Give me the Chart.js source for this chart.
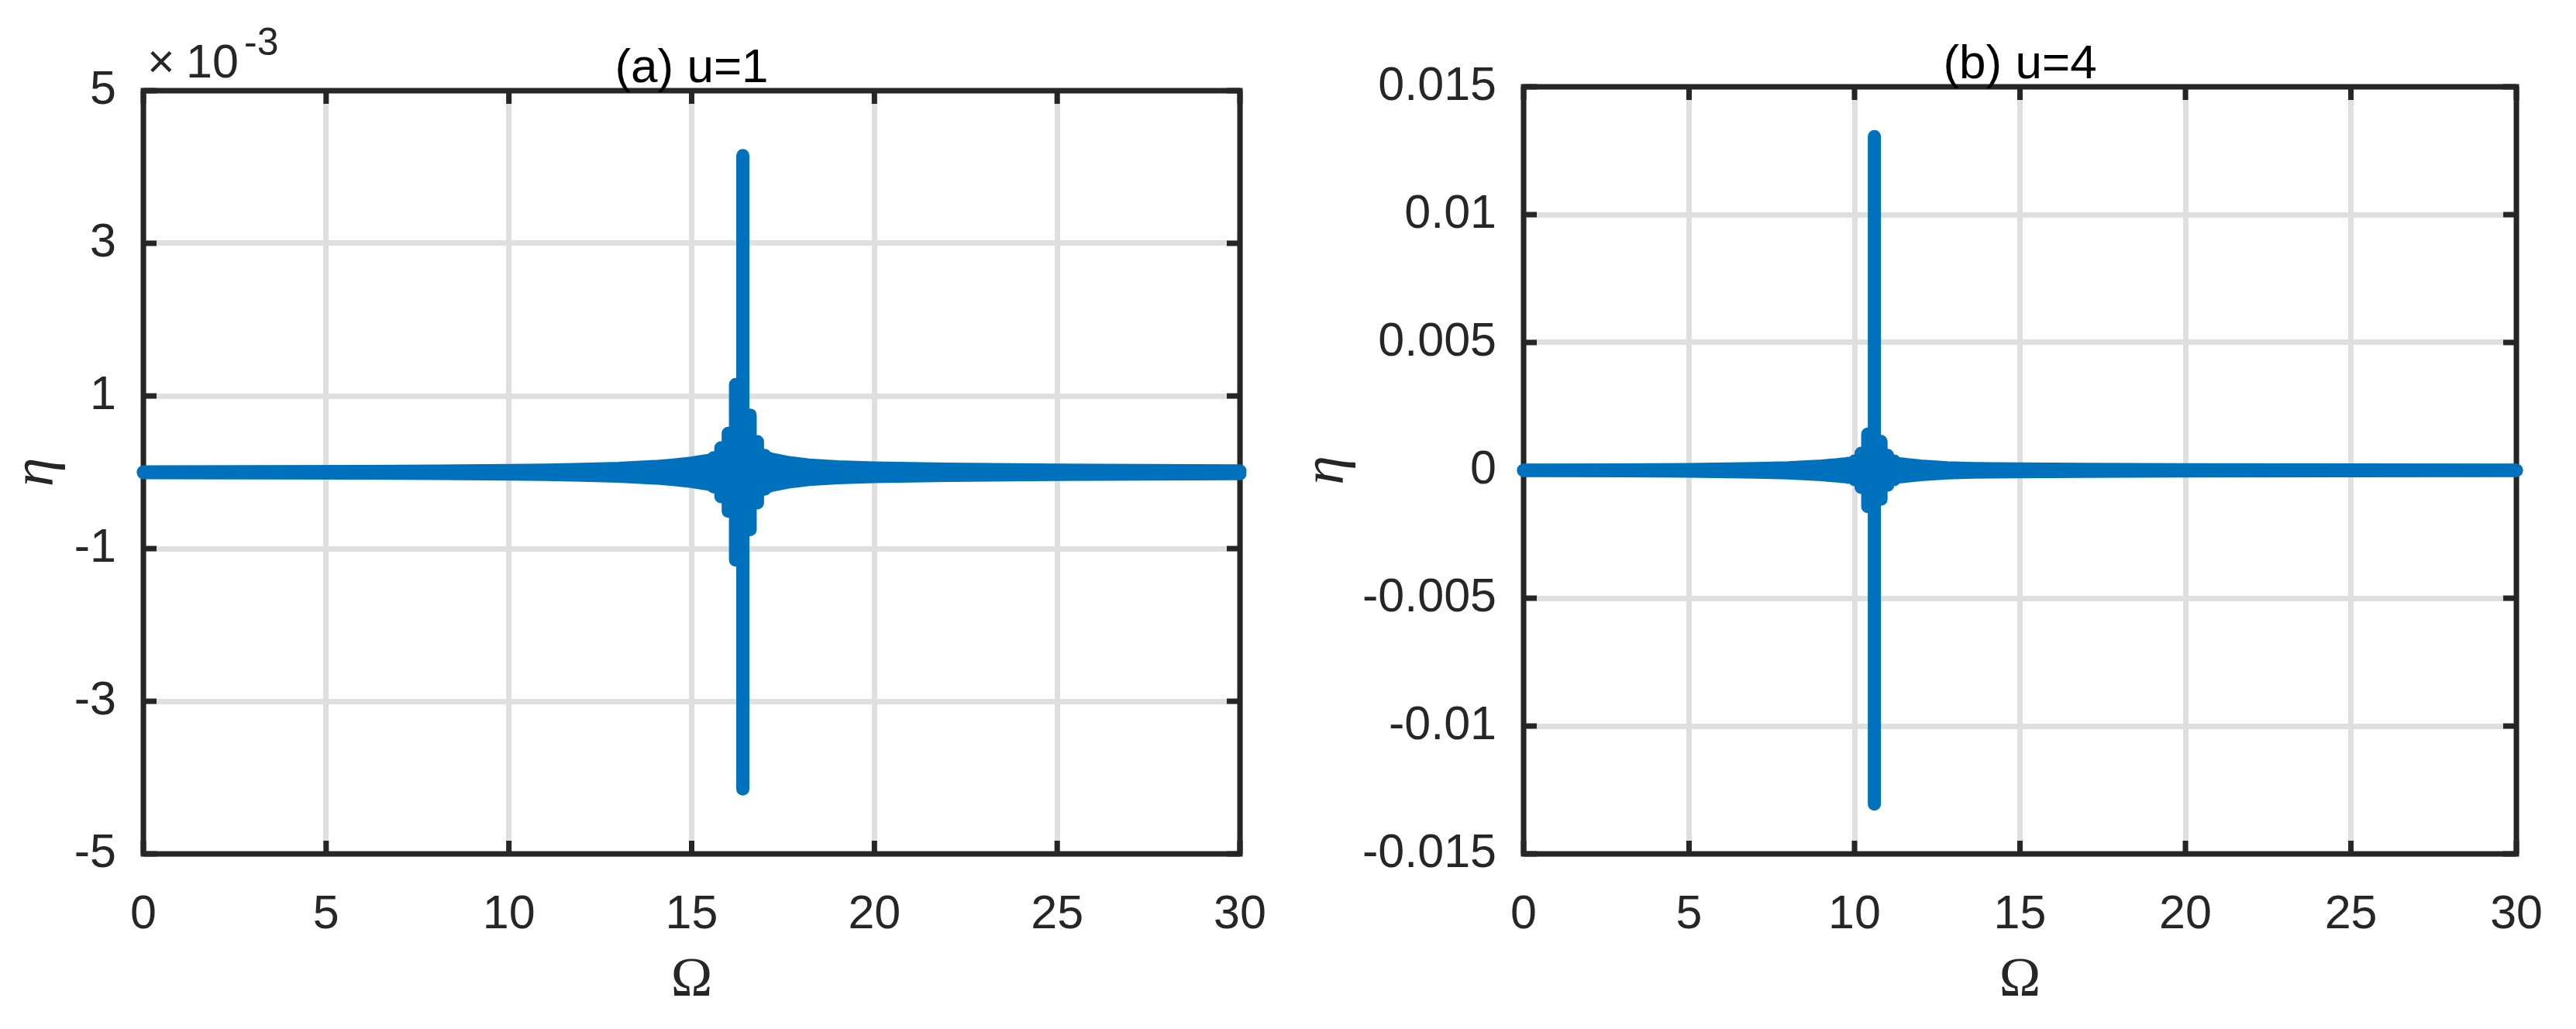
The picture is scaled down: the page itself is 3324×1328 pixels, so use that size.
<!DOCTYPE html>
<html><head><meta charset="utf-8">
<script src="https://cdn.jsdelivr.net/npm/chart.js@4.4.1/dist/chart.umd.min.js"></script>
<style>
html,body{margin:0;padding:0;background:#fff;width:3324px;height:1328px;overflow:hidden}
canvas{position:absolute;top:0}
#ca{left:0}
#cb{left:1680px}
</style></head><body>
<canvas id="ca" width="1680" height="1328"></canvas>
<canvas id="cb" width="1644" height="1328"></canvas>
<script>
// ---------------- data ----------------
const xTicks = [0, 5, 10, 15, 20, 25, 30];
const xLabel = 'Ω';
const yLabel = 'η';

// panel (a) u=1
const titleA = '(a) u=1';
const envOmegaA = [0, 3, 6, 8, 10, 11, 12, 13, 14, 14.5, 15, 15.4, 15.6, 17.0, 17.2, 17.6, 18.2, 19, 20, 22, 25, 30];
const envAmpA   = [0.005e-3, 0.007e-3, 0.010e-3, 0.015e-3, 0.022e-3, 0.028e-3, 0.037e-3, 0.050e-3, 0.075e-3, 0.095e-3, 0.12e-3, 0.15e-3, 0.17e-3, 0.20e-3, 0.17e-3, 0.13e-3, 0.095e-3, 0.07e-3, 0.055e-3, 0.04e-3, 0.028e-3, 0.018e-3];
const colOmegaA = [15.6, 15.8, 16.0, 16.2, 16.4, 16.6, 16.8, 17.0];
const colAmpA   = [0.19e-3, 0.32e-3, 0.51e-3, 1.15e-3, 4.15e-3, 0.75e-3, 0.40e-3, 0.22e-3];
const yTicksA = [-5e-3, -3e-3, -1e-3, 1e-3, 3e-3, 5e-3];
const yTickLabelsA = ['-5', '-3', '-1', '1', '3', '5'];
const yRangeA = [-5e-3, 5e-3];
const expA = '-3';

// panel (b) u=4
const titleB = '(b) u=4';
const envOmegaB = [0, 3, 5, 7, 8, 9, 9.4, 9.6, 11.4, 11.6, 12, 12.8, 13.6, 15, 17, 20, 25, 30];
const envAmpB   = [0.005e-3, 0.012e-3, 0.03e-3, 0.07e-3, 0.10e-3, 0.17e-3, 0.21e-3, 0.24e-3, 0.25e-3, 0.22e-3, 0.17e-3, 0.10e-3, 0.07e-3, 0.05e-3, 0.035e-3, 0.025e-3, 0.015e-3, 0.01e-3];
const colOmegaB = [9.8, 10.0, 10.2, 10.4, 10.6, 10.8, 11.0, 11.2];
const colAmpB   = [0.27e-3, 0.36e-3, 0.67e-3, 1.42e-3, 13.05e-3, 1.13e-3, 0.58e-3, 0.36e-3];
const yTicksB = [-0.015, -0.01, -0.005, 0, 0.005, 0.01, 0.015];
const yTickLabelsB = ['-0.015', '-0.01', '-0.005', '0', '0.005', '0.01', '0.015'];
const yRangeB = [-0.015, 0.015];

// ---------------- styling ----------------
const BLUE = '#0072BD';
const AXC = '#262626';
const GRID = '#dfdfdf';
const SANS = '"Liberation Sans", Arial, Helvetica, sans-serif';
const SERIF = '"Liberation Serif", "Times New Roman", serif';
const MARK = 17;

const framePlugin = {
  id: 'frame',
  beforeDatasetsDraw(chart, args, o) {
    const {ctx, chartArea: a, scales: {x, y}} = chart;
    ctx.save();
    ctx.strokeStyle = AXC;
    ctx.lineWidth = 7;
    ctx.lineCap = 'butt';
    ctx.beginPath();
    for (const v of o.xTicks) {
      const p = x.getPixelForValue(v);
      ctx.moveTo(p, a.bottom); ctx.lineTo(p, a.bottom - 17);
      ctx.moveTo(p, a.top); ctx.lineTo(p, a.top + 17);
    }
    for (const v of o.yTicks) {
      const p = y.getPixelForValue(v);
      ctx.moveTo(a.left, p); ctx.lineTo(a.left + 17, p);
      ctx.moveTo(a.right, p); ctx.lineTo(a.right - 17, p);
    }
    ctx.stroke();
    ctx.lineJoin = 'miter';
    ctx.strokeRect(a.left, a.top, a.right - a.left, a.bottom - a.top);
    ctx.restore();
  },
  afterDraw(chart, args, o) {
    const {ctx, chartArea: a} = chart;
    ctx.save();
    ctx.fillStyle = '#000';
    ctx.font = o.titleSize + 'px ' + SANS;
    ctx.textAlign = 'center';
    ctx.textBaseline = 'alphabetic';
    ctx.fillText(o.title, (a.left + a.right) / 2, o.titleY);
    if (o.exp) {
      ctx.fillStyle = AXC;
      ctx.textAlign = 'left';
      ctx.font = '61px ' + SANS;
      ctx.fillText('×', a.left + 5, 100);
      ctx.fillText('10', a.left + 55, 100);
      ctx.font = '50px ' + SANS;
      ctx.fillText(o.exp, a.left + 130, 71);
    }
    ctx.restore();
  }
};

function makePanel(id, p) {
  const upper = p.envOmega.map((w, i) => ({x: w, y: p.envAmp[i]}));
  const lower = p.envOmega.map((w, i) => ({x: w, y: -p.envAmp[i]}));
  const cols = [];
  p.colOmega.forEach((w, i) => {
    cols.push({x: w, y: -p.colAmp[i]}, {x: w, y: p.colAmp[i]}, {x: w, y: null});
  });
  const lineBase = {
    borderColor: BLUE, borderWidth: MARK, pointRadius: 0, tension: 0,
    borderCapStyle: 'round', borderJoinStyle: 'round', clip: 12, spanGaps: false
  };
  new Chart(document.getElementById(id), {
    type: 'line',
    data: {
      datasets: [
        Object.assign({}, lineBase, {data: upper, fill: '+1', backgroundColor: BLUE}),
        Object.assign({}, lineBase, {data: lower, fill: false}),
        Object.assign({}, lineBase, {data: cols, fill: false})
      ]
    },
    options: {
      responsive: false, animation: false, devicePixelRatio: 1, events: [],
      layout: {padding: p.pad},
      plugins: {
        legend: {display: false}, title: {display: false}, tooltip: {enabled: false},
        frame: {xTicks: xTicks, yTicks: p.yTicks, title: p.title, titleY: p.titleY, titleSize: 62, exp: p.exp}
      },
      scales: {
        x: {
          type: 'linear', min: 0, max: 30, offset: false,
          afterBuildTicks: s => { s.ticks = xTicks.map(v => ({value: v})); },
          afterFit: s => { s.height = 200; },
          grid: {color: GRID, lineWidth: 7, drawTicks: false, offset: false},
          border: {display: false},
          ticks: {padding: 43, color: AXC, font: {family: SANS, size: 61}, maxRotation: 0, callback: v => String(v)},
          title: {display: true, text: xLabel, color: AXC, padding: 0, font: {family: SERIF, size: 72, lineHeight: 1}}
        },
        y: {
          type: 'linear', min: p.yRange[0], max: p.yRange[1],
          afterBuildTicks: s => { s.ticks = p.yTicks.map(v => ({value: v})); },
          afterFit: s => { s.width = p.yWidth; },
          grid: {color: GRID, lineWidth: 7, drawTicks: false},
          border: {display: false},
          ticks: {padding: 35, color: AXC, font: {family: SANS, size: 61}, callback: (v, i) => p.yLabels[i]},
          title: {display: true, text: yLabel, color: AXC, padding: 0, font: {family: SERIF, size: 76, style: 'italic', lineHeight: 1}}
        }
      }
    },
    plugins: [framePlugin]
  });
}

makePanel('ca', {
  envOmega: envOmegaA, envAmp: envAmpA, colOmega: colOmegaA, colAmp: colAmpA,
  yTicks: yTicksA, yLabels: yTickLabelsA, yRange: yRangeA, title: titleA, titleY: 106, exp: expA,
  pad: {left: 10, right: 80, top: 117, bottom: 26}, yWidth: 175
});
makePanel('cb', {
  envOmega: envOmegaB, envAmp: envAmpB, colOmega: colOmegaB, colAmp: colAmpB,
  yTicks: yTicksB, yLabels: yTickLabelsB, yRange: yRangeB, title: titleB, titleY: 101, exp: null,
  pad: {left: -5, right: 69, top: 112, bottom: 26}, yWidth: 291
});
</script>
</body></html>
